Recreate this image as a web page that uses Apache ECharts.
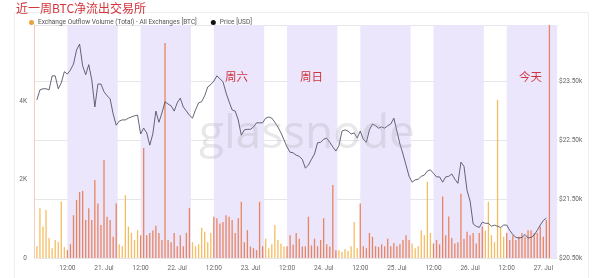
<!DOCTYPE html>
<html><head><meta charset="utf-8">
<script src="https://cdn.jsdelivr.net/npm/echarts@6/dist/echarts.min.js"></script>
<style>html,body{margin:0;padding:0;background:#fff}#c{width:600px;height:278px}</style>
</head><body><div id="c"></div>
<script>
// ---- data ----
const firstPoint = '2022-07-20T02:00:00';   // hourly series start (local time)
const axisStart = '2022-07-20T01:16:00';
const axisEnd = '2022-07-27T04:36:00';
const price = [23190,23360,23380,23380,23360,23600,23600,23380,23480,23670,
23630,23700,23800,24040,24140,23770,23620,23790,23530,23070,
23460,23460,23330,23260,23210,22950,22760,22830,22850,22850,
22880,22900,22920,22930,22610,22710,22630,22420,22610,23000,
22810,22970,23160,23120,23090,23000,23140,23220,23070,23000,
22930,22880,23020,23140,23160,23260,23410,23450,23510,23600,
23550,23500,23310,23160,23020,23000,22850,22590,22680,22690,
22690,22730,22800,22800,22800,22880,22900,22880,22810,22730,
22630,22510,22390,22300,22290,22250,22230,22180,22030,22080,
22180,22270,22460,22470,22520,22540,22470,22390,22320,22410,
22660,22680,22660,22610,22630,22540,22660,22520,22470,22680,
22780,22750,22710,22730,22710,22750,22780,22880,22660,22440,
22270,22080,21890,21790,21830,21840,21890,21910,21980,22000,
21940,21880,21880,21790,21880,21890,21930,21840,21770,22130,
22060,21650,21470,21080,21040,21020,21110,21090,21090,21040,
21060,21040,21020,21060,21060,20970,20900,20850,20840,20850,
20900,20840,20850,20890,20970,21060,21140,21180];
const outflow = [300,1270,800,1220,510,250,460,410,1440,280,
200,350,1090,1480,1680,1710,970,1270,970,1990,
1390,840,2500,1050,970,540,1390,350,300,1600,
800,640,460,710,580,2800,580,640,700,820,
640,460,5480,460,400,640,300,580,300,640,
1270,400,300,350,770,670,400,640,1050,1010,
880,920,1090,1050,970,640,1010,1430,400,710,
290,250,200,1430,300,490,250,350,840,460,
370,290,300,580,340,640,490,290,300,1050,
320,490,300,460,1010,350,290,1860,200,200,
150,230,180,300,920,250,1390,300,250,640,
540,300,280,350,300,490,300,380,300,350,
460,580,460,370,250,300,710,580,1940,640,
370,460,350,1570,580,1060,510,370,400,1640,
490,670,580,640,370,640,800,700,1430,580,
400,4030,770,540,640,460,580,460,540,640,
540,710,710,640,640,800,540,970,7000];
const bandStarts = ['2022-07-20T12:00:00','2022-07-21T12:00:00','2022-07-22T12:00:00','2022-07-23T12:00:00','2022-07-24T12:00:00','2022-07-25T12:00:00','2022-07-26T12:00:00'];
const bandEnds   = ['2022-07-21T04:30:00','2022-07-22T04:30:00','2022-07-23T04:30:00','2022-07-24T04:30:00','2022-07-25T04:30:00','2022-07-26T04:30:00','2022-07-27T04:30:00'];
const volTicks = [0, 2000, 4000];
const priceTicks = [20500, 21500, 22500, 23500];
const seriesNames = ['Exchange Outflow Volume (Total) - All Exchanges [BTC]', 'Price [USD]'];
const notes = ['周六', '周日', '今天'];
const titleText = '近一周BTC净流出交易所';

// ---- build ----
const HOUR = 3600000;
const t0 = new Date(firstPoint).getTime();
const times = outflow.map((_, i) => t0 + i * HOUR);
const bands = bandStarts.map((s, i) => [new Date(s).getTime(), new Date(bandEnds[i]).getTime()]);
const inBand = t => bands.some(b => t >= b[0] && t < b[1]);
const BAR_BAND = '#e98462', BAR_PLAIN = '#f4bd62';
const barData = outflow.map((v, i) => ({value: [times[i], v], itemStyle: {color: inBand(times[i]) ? BAR_BAND : BAR_PLAIN}}));
const priceData = price.map((v, i) => [times[i], v]);
const pad = n => (n < 10 ? '0' : '') + n;
const FONT = 'Roboto, "Noto Sans", sans-serif';

const chart = echarts.init(document.getElementById('c'), null, {renderer: 'canvas'});
chart.setOption({
  animation: false,
  backgroundColor: '#fff',
  title: {text: titleText, left: 11, top: -3, textStyle: {color: '#d3333b', fontSize: 12, fontWeight: 'normal', fontFamily: '"Noto Sans CJK SC", sans-serif'}},
  legend: {
    data: [{name: seriesNames[0], icon: 'circle', itemStyle: {color: '#e9a23b'}}, {name: seriesNames[1], icon: 'circle', itemStyle: {color: '#111'}}],
    left: 24, top: 14, itemWidth: 5, itemHeight: 5, itemGap: 14,
    textStyle: {fontSize: 6.5, color: '#555', fontFamily: FONT, padding: [0, 0, 0, -1]}
  },
  grid: {left: 34, right: 42, top: 25, bottom: 20},
  xAxis: {
    type: 'time', min: new Date(axisStart).getTime(), max: new Date(axisEnd).getTime(),
    splitNumber: 14,
    axisLine: {show: false}, axisTick: {show: false}, splitLine: {show: false},
    axisLabel: {
      fontSize: 6.5, color: '#666', fontFamily: FONT, margin: 7, showMinLabel: false, showMaxLabel: false, hideOverlap: false,
      formatter: v => { const d = new Date(v); const h = d.getHours(), m = d.getMinutes();
        if (m !== 0) return '';
        if (h === 0) return d.getDate() + '. Jul';
        if (h === 12) return '12:00';
        return ''; }
    }
  },
  yAxis: [
    {type: 'value', min: volTicks[0], max: 5936, interval: volTicks[1] - volTicks[0],
     axisLine: {show: true, lineStyle: {color: '#f4cdb8', width: 1}}, axisTick: {show: false}, splitLine: {show: false},
     axisLabel: {fontSize: 6.5, color: '#666', fontFamily: FONT, margin: 7, showMaxLabel: false,
       formatter: v => v === 0 ? '0' : (v / 1000) + 'K'}},
    {type: 'value', position: 'right', min: priceTicks[0], max: 24465, interval: priceTicks[1] - priceTicks[0],
     axisLine: {show: false}, axisTick: {show: false},
     splitLine: {show: true, lineStyle: {color: '#e6e6ea', width: 1}},
     axisLabel: {fontSize: 6.5, color: '#666', fontFamily: FONT, margin: 1, showMaxLabel: false,
       formatter: v => '$' + (v / 1000).toFixed(2) + 'k'}}
  ],
  series: [
    {name: 'bands', type: 'line', yAxisIndex: 1, z: 0, data: [[times[0], priceTicks[0]]], showSymbol: false, lineStyle: {width: 0}, silent: true,
     markArea: {silent: true, itemStyle: {color: '#ebe6fb'}, data: bands.map(b => [{xAxis: b[0]}, {xAxis: b[1]}])}},
    {name: seriesNames[0], type: 'bar', yAxisIndex: 0, z: 2, barWidth: 1.3, data: barData, clip: true,
     itemStyle: {color: '#e9a23b'}},
    {name: seriesNames[1], type: 'line', yAxisIndex: 1, z: 3, data: priceData, showSymbol: false, symbol: 'none',
     lineStyle: {color: '#4a4a5e', width: 0.85}, itemStyle: {color: '#111'}}
  ],
  graphic: [
    {type: 'text', left: 199, top: 112, z: 10, silent: true,
     style: {text: 'glassnode', fontSize: 46, fontFamily: '"Open Sans", sans-serif', fill: 'rgba(165,165,175,0.26)'}},
    {type: 'text', left: 225, top: 71, z: 11, style: {text: notes[0], fontSize: 11.5, fill: '#cf3440', fontFamily: '"Noto Sans CJK SC", sans-serif'}},
    {type: 'text', left: 300, top: 71, z: 11, style: {text: notes[1], fontSize: 11.5, fill: '#cf3440', fontFamily: '"Noto Sans CJK SC", sans-serif'}},
    {type: 'text', left: 519, top: 71, z: 11, style: {text: notes[2], fontSize: 11.5, fill: '#cf3440', fontFamily: '"Noto Sans CJK SC", sans-serif'}},
    {type: 'rect', left: 12, top: 10, z: -1, silent: true, shape: {width: 574, height: 280}, style: {fill: 'none', stroke: '#eeeeee', lineWidth: 1}}
  ]
});
</script></body></html>
